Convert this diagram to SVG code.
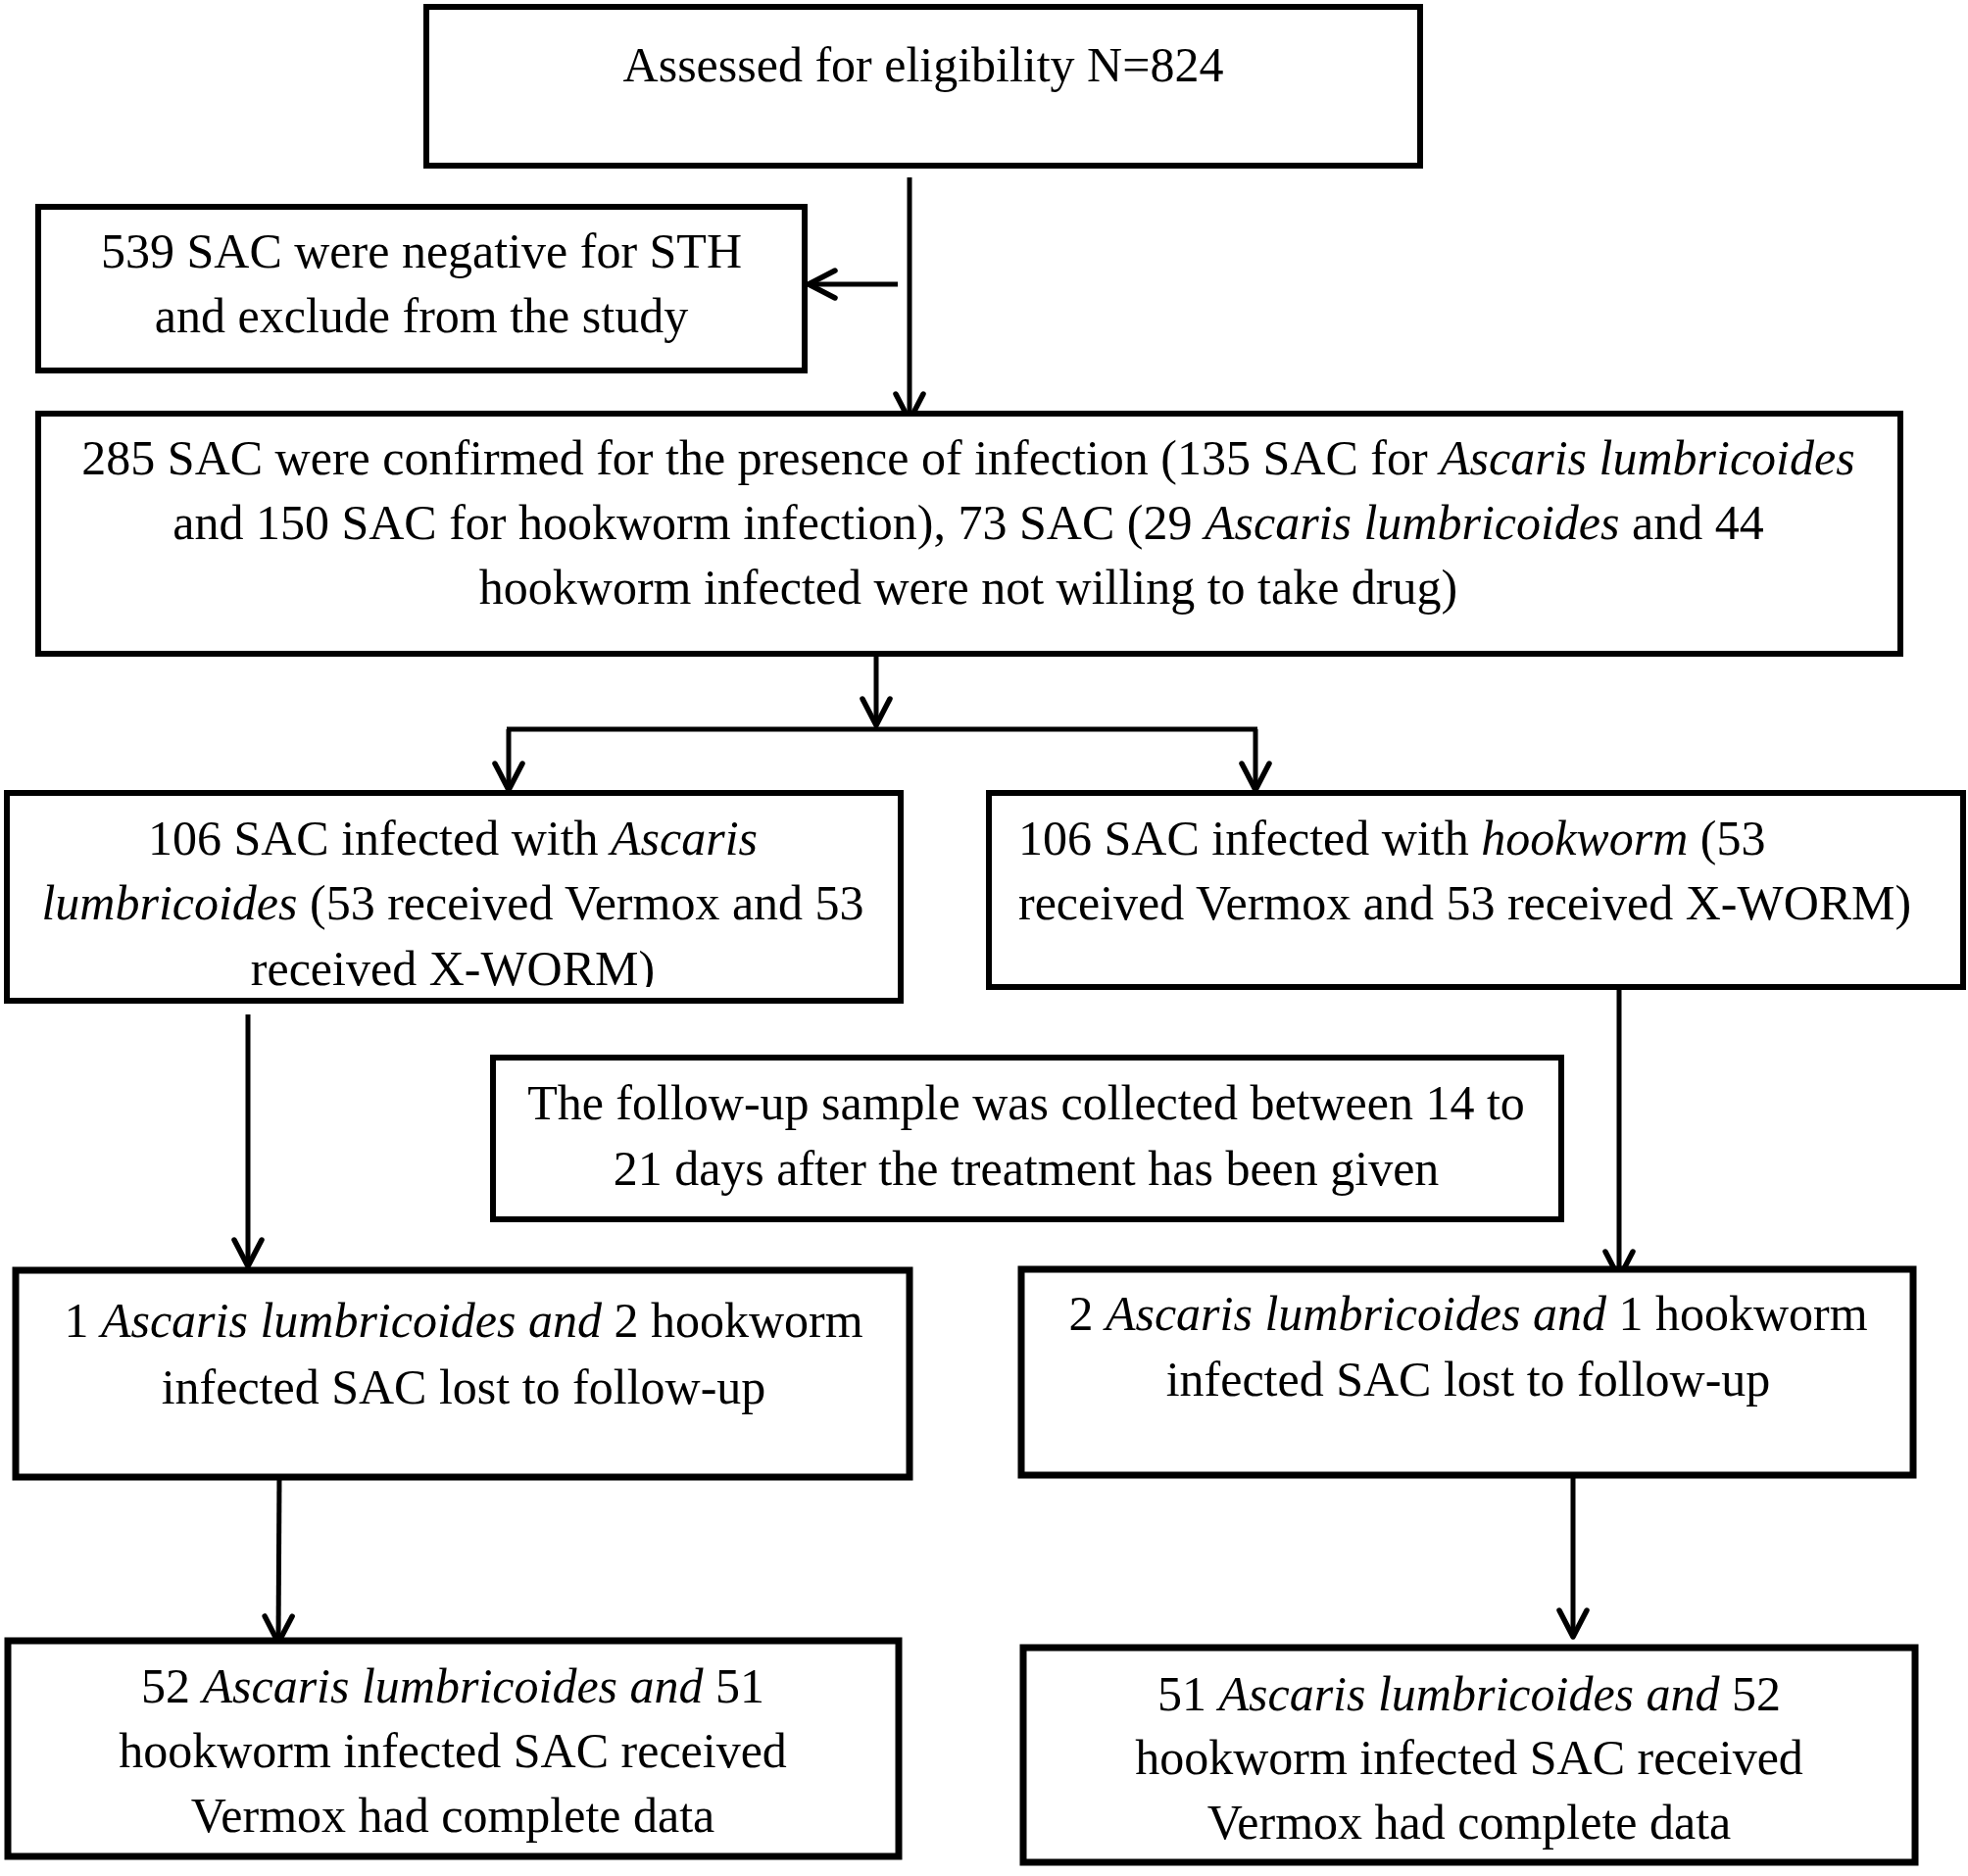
<svg xmlns="http://www.w3.org/2000/svg" width="2008" height="1914" viewBox="0 0 2008 1914">
<style>
.box{fill:#fff;stroke:#000;stroke-width:6;stroke-linejoin:miter}
.thick{stroke-width:7}
.t{font-family:"Liberation Serif","Times New Roman",serif;font-size:50px;fill:#000}
.c{text-anchor:middle}
.i{font-style:italic}
.ln{fill:none;stroke:#000;stroke-width:5}
</style>
<defs>
<marker id="arr" markerUnits="userSpaceOnUse" markerWidth="60" markerHeight="60" viewBox="-40 -30 60 60" refX="0" refY="0" orient="auto" overflow="visible">
<path d="M-27,-14 L0,0 L-27,14" fill="none" stroke="#000" stroke-width="5.5" stroke-linecap="round" stroke-linejoin="round"/>
</marker>
<clipPath id="clip106"><rect x="0" y="960" width="930" height="47"/></clipPath>
</defs>
<rect width="2008" height="1914" fill="#fff"/>
<g id="connectors">
<path class="ln" d="M928,181 L928,429" marker-end="url(#arr)"/>
<path class="ln" d="M916,290 L825,290" marker-end="url(#arr)"/>
<path class="ln" d="M894,668 L894,740" marker-end="url(#arr)"/>
<path class="ln" d="M517,744 L1283,744"/>
<path class="ln" d="M519,744 L519,806" marker-end="url(#arr)"/>
<path class="ln" d="M1281,744 L1281,806" marker-end="url(#arr)"/>
<path class="ln" d="M253,1035 L253,1292" marker-end="url(#arr)"/>
<path class="ln" d="M1652,1007 L1652,1304" marker-end="url(#arr)"/>
<path class="ln" d="M285,1507 L284,1676" marker-end="url(#arr)"/>
<path class="ln" d="M1605,1505 L1605,1670" marker-end="url(#arr)"/>
</g>
<g id="n1">
<rect class="box" x="435" y="7" width="1014" height="162"/>
<text class="t c" x="942" y="83">Assessed for eligibility N=824</text>
</g>
<g id="n2">
<rect class="box" x="39" y="211" width="782" height="167"/>
<text class="t c" x="430" y="273">539 SAC were negative for STH</text>
<text class="t c" x="430" y="339">and exclude from the study</text>
</g>
<g id="n3">
<rect class="box" x="39" y="422" width="1900" height="245"/>
<text class="t c" x="988" y="484">285 SAC were confirmed for the presence of infection (135 SAC for <tspan class="i">Ascaris lumbricoides</tspan></text>
<text class="t c" x="988" y="550">and 150 SAC for hookworm infection), 73 SAC (29 <tspan class="i">Ascaris lumbricoides</tspan> and 44</text>
<text class="t c" x="988" y="616">hookworm infected were not willing to take drug)</text>
</g>
<g id="n4">
<rect class="box" x="7" y="809" width="912" height="212"/>
<text class="t c" x="462" y="872">106 SAC infected with <tspan class="i">Ascaris</tspan></text>
<text class="t c" x="462" y="938"><tspan class="i">lumbricoides</tspan> (53 received Vermox and 53</text>
<text class="t c" x="462" y="1005" clip-path="url(#clip106)">received X-WORM)</text>
</g>
<g id="n5">
<rect class="box" x="1009" y="809" width="994" height="198"/>
<text class="t" x="1039" y="872">106 SAC infected with <tspan class="i">hookworm</tspan> (53</text>
<text class="t" x="1039" y="938">received Vermox and 53 received X-WORM)</text>
</g>
<g id="n6">
<rect class="box" x="503" y="1079" width="1090" height="165"/>
<text class="t c" x="1047" y="1142">The follow-up sample was collected between 14 to</text>
<text class="t c" x="1047" y="1209">21 days after the treatment has been given</text>
</g>
<g id="n7">
<rect class="box thick" x="16" y="1296" width="912" height="211"/>
<text class="t c" x="473" y="1364">1 <tspan class="i">Ascaris lumbricoides and</tspan> 2 hookworm</text>
<text class="t c" x="473" y="1432">infected SAC lost to follow-up</text>
</g>
<g id="n8">
<rect class="box thick" x="1042" y="1295" width="910" height="210"/>
<text class="t c" x="1498" y="1357">2 <tspan class="i">Ascaris lumbricoides and</tspan> 1 hookworm</text>
<text class="t c" x="1498" y="1424">infected SAC lost to follow-up</text>
</g>
<g id="n9">
<rect class="box thick" x="8" y="1674" width="909" height="220"/>
<text class="t c" x="462" y="1737">52 <tspan class="i">Ascaris lumbricoides and</tspan> 51</text>
<text class="t c" x="462" y="1803">hookworm infected SAC received</text>
<text class="t c" x="462" y="1869">Vermox had complete data</text>
</g>
<g id="n10">
<rect class="box thick" x="1044" y="1681" width="910" height="219"/>
<text class="t c" x="1499" y="1745">51 <tspan class="i">Ascaris lumbricoides and</tspan> 52</text>
<text class="t c" x="1499" y="1810">hookworm infected SAC received</text>
<text class="t c" x="1499" y="1876">Vermox had complete data</text>
</g>
</svg>
